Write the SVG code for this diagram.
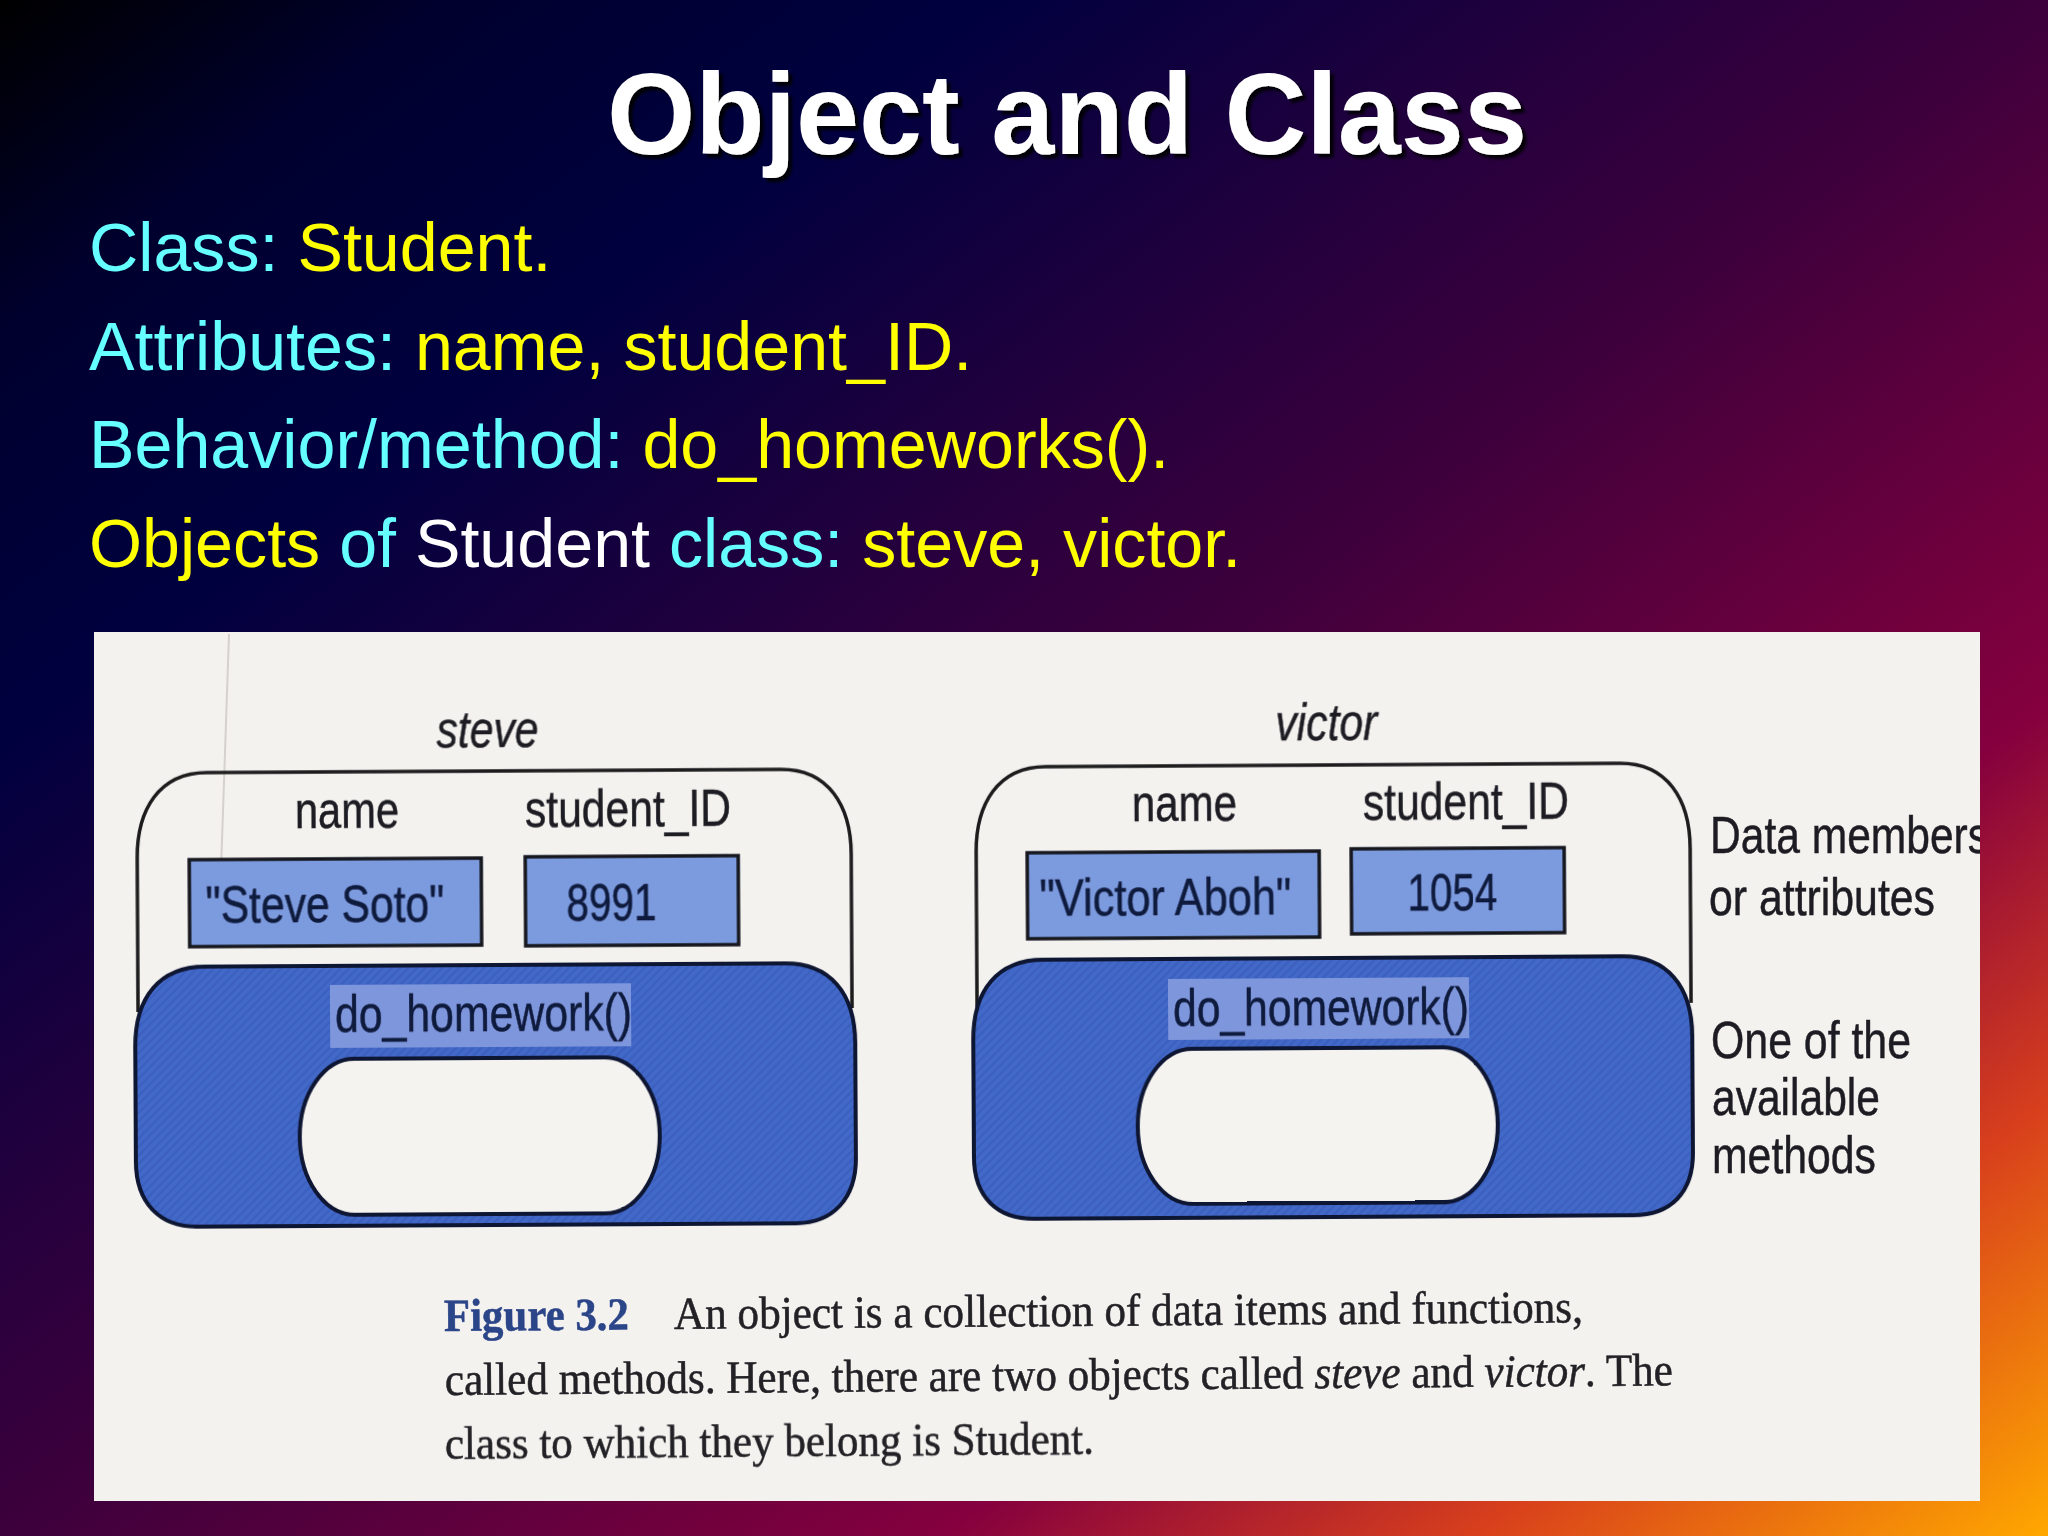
<svg xmlns="http://www.w3.org/2000/svg" width="2048" height="1536" viewBox="0 0 2048 1536">
<style>
.hd{font-family:"Liberation Sans",Arial,sans-serif;font-size:115px;font-weight:700;fill:#fff;filter:url(#sh)}
.ln{font-family:"Liberation Sans",Arial,sans-serif;font-size:68.2px}
.c{fill:#66ffff}.y{fill:#ffff00}.w{fill:#fff}
.t{font-family:"Liberation Sans",Arial,sans-serif;font-size:52px;fill:#1d1d24;stroke:#1d1d24;stroke-width:.5}
.d{fill:#101a3c;stroke:#101a3c}
.it{font-style:italic}
.cap{font-family:"Liberation Serif","Times New Roman",serif;font-size:46px;fill:#222226;stroke:#222226;stroke-width:.5}
.fig{font-weight:700;fill:#2c4488;stroke:#2c4488}
.outer{fill:none;stroke:#1c1c1e;stroke-width:3.5}
.blue{fill:url(#hatch);stroke:#0e1430;stroke-width:4}
.box{fill:#7c9ade;stroke:#14181f;stroke-width:3.5}
.hl{fill:#7e96dc}
.hole{fill:#f5f3f0;stroke:#0e1430;stroke-width:4}
.scan{fill:none;stroke:#d4d1ce;stroke-width:2}
</style>
<defs>
<linearGradient id="bg" x1="0" y1="0" x2="1" y2="1">
<stop offset="0" stop-color="#000"/>
<stop offset=".11" stop-color="#00002e"/>
<stop offset=".24" stop-color="#00003f"/>
<stop offset=".5" stop-color="#3c003c"/>
<stop offset=".73" stop-color="#85003e"/>
<stop offset=".86" stop-color="#d8401c"/>
<stop offset="1" stop-color="#ffa800"/>
</linearGradient>
<pattern id="hatch" width="6" height="6" patternUnits="userSpaceOnUse" patternTransform="rotate(45)">
<rect width="6" height="6" fill="#4268c8"/>
<rect width="2" height="6" fill="#3b5fbe"/>
</pattern>
<filter id="sh" x="-5%" y="-10%" width="110%" height="125%">
<feDropShadow dx="4" dy="4" stdDeviation="1.5" flood-color="#000" flood-opacity=".9"/>
</filter>
<filter id="soft" x="0" y="0" width="100%" height="100%"><feGaussianBlur stdDeviation=".7"/></filter>
<clipPath id="panel"><rect x="94" y="632" width="1886" height="869"/></clipPath>
</defs>
<rect id="background" width="2048" height="1536" fill="url(#bg)"/>
<text id="title" class="hd" x="607" y="154" textLength="920" lengthAdjust="spacingAndGlyphs">Object and Class</text>
<g id="bullets" class="ln">
<text x="89" y="271"><tspan class="c">Class: </tspan><tspan class="y">Student.</tspan></text>
<text x="89" y="370"><tspan class="c">Attributes: </tspan><tspan class="y">name, student_ID.</tspan></text>
<text x="89" y="468"><tspan class="c">Behavior/method: </tspan><tspan class="y">do_homeworks().</tspan></text>
<text x="89" y="567"><tspan class="y">Objects </tspan><tspan class="c">of </tspan><tspan class="w">Student </tspan><tspan class="c">class: </tspan><tspan class="y">steve, victor.</tspan></text>
</g>
<rect id="paper" x="94" y="632" width="1886" height="869" fill="#f4f2ef"/>
<g clip-path="url(#panel)">
<g id="figure" filter="url(#soft)">
<path class="scan" d="M229 634L220 900"/>
<g id="steve" transform="rotate(-.32 495 1000)">
<text class="t it" x="438" y="747" textLength="102" lengthAdjust="spacingAndGlyphs">steve</text>
<path class="outer" d="M138 1010V856C138 808 160 771 208 771H782C830 771 852 808 852 856V1010"/>
<text class="t" x="296" y="827" textLength="104" lengthAdjust="spacingAndGlyphs">name</text>
<text class="t" x="526" y="827" textLength="206" lengthAdjust="spacingAndGlyphs">student_ID</text>
<rect class="box" x="190" y="858" width="292" height="87"/>
<text class="t d" x="206" y="921" textLength="239" lengthAdjust="spacingAndGlyphs">"Steve Soto"</text>
<rect class="box" x="526" y="857" width="213" height="89"/>
<text class="t d" x="567" y="921" textLength="90" lengthAdjust="spacingAndGlyphs">8991</text>
<path class="blue" d="M135 1045C135 995 160 965 205 965H785C830 965 855 995 855 1045V1160C855 1200 832 1225 795 1225H195C158 1225 135 1200 135 1160Z"/>
<rect class="hl" x="330" y="984" width="301" height="63"/>
<text class="t d" x="335" y="1031" textLength="297" lengthAdjust="spacingAndGlyphs">do_homework()</text>
<rect class="hole" x="299" y="1058" width="360" height="156" rx="55" ry="78"/>
</g>
<g id="victor" transform="rotate(-.34 1332 995)">
<text class="t it" x="1277" y="740" textLength="102" lengthAdjust="spacingAndGlyphs">victor</text>
<path class="outer" d="M977 1005V850C977 802 999 765 1047 765H1621C1669 765 1691 802 1691 850V1005"/>
<text class="t" x="1133" y="820" textLength="105" lengthAdjust="spacingAndGlyphs">name</text>
<text class="t" x="1364" y="820" textLength="206" lengthAdjust="spacingAndGlyphs">student_ID</text>
<rect class="box" x="1028" y="851" width="292" height="86"/>
<text class="t d" x="1040" y="914" textLength="252" lengthAdjust="spacingAndGlyphs">"Victor Aboh"</text>
<rect class="box" x="1352" y="849" width="213" height="85"/>
<text class="t d" x="1408" y="911" textLength="90" lengthAdjust="spacingAndGlyphs">1054</text>
<path class="blue" d="M973 1038C973 988 998 958 1043 958H1622C1667 958 1692 988 1692 1038V1155C1692 1195 1669 1217 1632 1217H1033C996 1217 973 1195 973 1155Z"/>
<rect class="hl" x="1168" y="978" width="301" height="61"/>
<text class="t d" x="1173" y="1025" textLength="296" lengthAdjust="spacingAndGlyphs">do_homework()</text>
<rect class="hole" x="1137" y="1048" width="360" height="155" rx="55" ry="78"/>
</g>
<g id="side-labels">
<text class="t" x="1710" y="853" textLength="279" lengthAdjust="spacingAndGlyphs">Data members</text>
<text class="t" x="1709" y="915" textLength="226" lengthAdjust="spacingAndGlyphs">or attributes</text>
<text class="t" x="1711" y="1058" textLength="200" lengthAdjust="spacingAndGlyphs">One of the</text>
<text class="t" x="1712" y="1115" textLength="168" lengthAdjust="spacingAndGlyphs">available</text>
<text class="t" x="1712" y="1173" textLength="164" lengthAdjust="spacingAndGlyphs">methods</text>
</g>
<g id="caption" class="cap">
<text x="444" y="1331" transform="rotate(-.42 444 1331)" textLength="185" lengthAdjust="spacingAndGlyphs" class="fig">Figure 3.2</text>
<text x="674" y="1329" transform="rotate(-.42 674 1329)" textLength="909" lengthAdjust="spacingAndGlyphs">An object is a collection of data items and functions,</text>
<text x="445" y="1395" transform="rotate(-.45 445 1395)" textLength="1228" lengthAdjust="spacingAndGlyphs">called methods. Here, there are two objects called <tspan class="it">steve</tspan> and <tspan class="it">victor</tspan>. The</text>
<text x="445" y="1459" transform="rotate(-.42 445 1459)" textLength="649" lengthAdjust="spacingAndGlyphs">class to which they belong is Student.</text>
</g>
</g>
</g>
</svg>
